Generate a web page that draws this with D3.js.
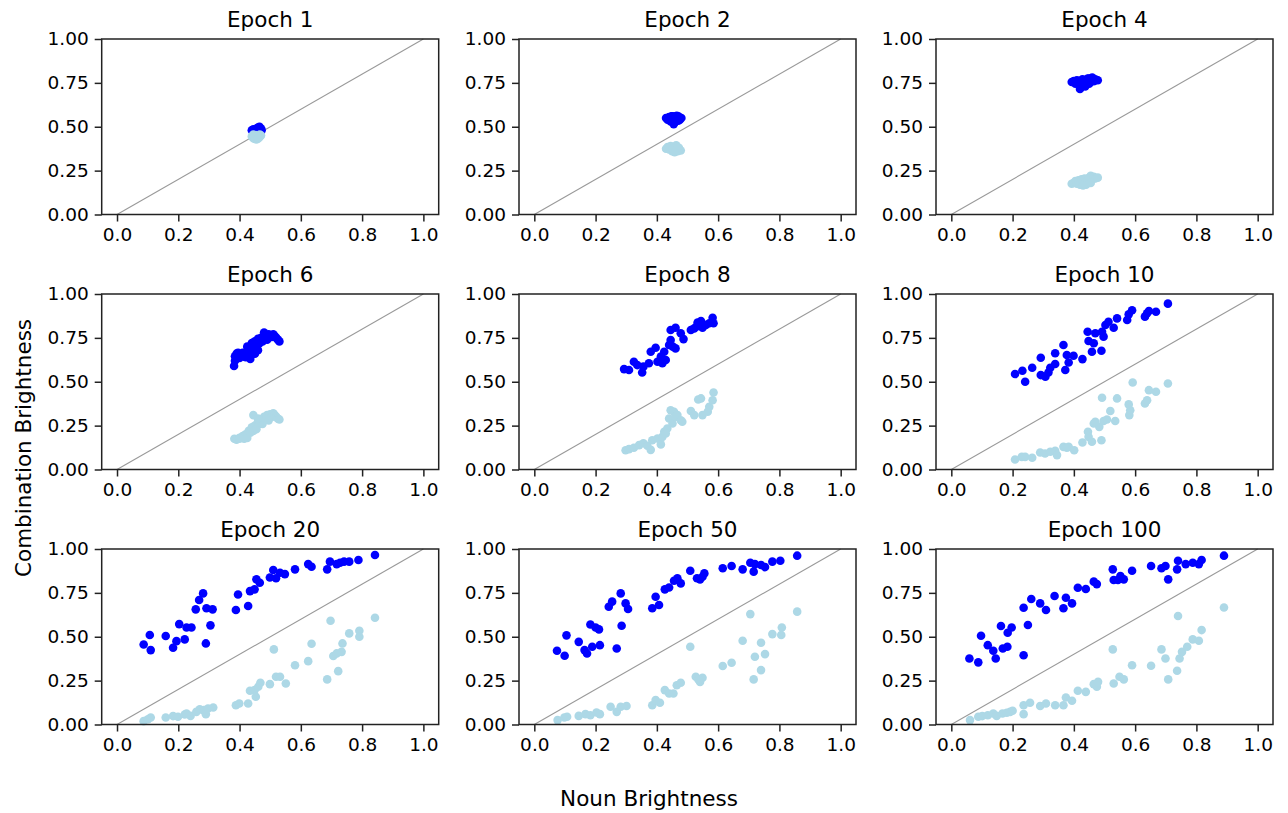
<!DOCTYPE html>
<html>
<head>
<meta charset="utf-8">
<script src="https://cdn.jsdelivr.net/npm/d3@7"></script>
<style>
	body { margin: 0; background: #fff; }
	text { font-family: "DejaVu Sans", sans-serif; fill: #000; }
</style>
</head>
<body>
<div id="chart"></div>
<script>

// Noun brightness (x) vs combination brightness (y), two groups per epoch

const epochs = [1, 2, 4, 6, 8, 10, 20, 50, 100];

const xTicks = [0, 0.2, 0.4, 0.6, 0.8, 1.0];
const yTicks = [0, 0.25, 0.5, 0.75, 1.0];

const ep1Dark = [[0.44,0.48],[0.445,0.485],[0.45,0.48],[0.455,0.49],[0.46,0.495],[0.465,0.5],[0.47,0.49],[0.468,0.475],[0.46,0.48],[0.45,0.475],[0.443,0.478],[0.455,0.485],[0.462,0.488],[0.472,0.48]];
const ep1Light = [[0.44,0.445],[0.445,0.435],[0.45,0.43],[0.455,0.428],[0.46,0.432],[0.465,0.44],[0.47,0.45],[0.466,0.455],[0.452,0.452],[0.445,0.455],[0.458,0.445],[0.462,0.437]];

const ep2Dark = [[0.43,0.55],[0.435,0.54],[0.44,0.555],[0.445,0.53],[0.448,0.56],[0.452,0.545],[0.455,0.515],[0.46,0.56],[0.462,0.535],[0.467,0.55],[0.47,0.56],[0.475,0.54],[0.48,0.55],[0.44,0.54],[0.458,0.525],[0.45,0.56],[0.47,0.535],[0.465,0.562]];
const ep2Light = [[0.43,0.375],[0.435,0.385],[0.44,0.37],[0.445,0.39],[0.45,0.36],[0.455,0.385],[0.46,0.37],[0.463,0.395],[0.468,0.36],[0.472,0.38],[0.478,0.365],[0.44,0.385],[0.452,0.375],[0.466,0.38],[0.458,0.355]];

const ep4Dark = [[0.393,0.755],[0.40,0.76],[0.405,0.745],[0.41,0.765],[0.415,0.75],[0.42,0.715],[0.423,0.74],[0.428,0.77],[0.432,0.755],[0.437,0.73],[0.44,0.76],[0.445,0.775],[0.45,0.745],[0.455,0.765],[0.46,0.78],[0.465,0.76],[0.47,0.77],[0.478,0.765],[0.425,0.76],[0.45,0.775]];
const ep4Light = [[0.393,0.175],[0.40,0.18],[0.405,0.19],[0.41,0.175],[0.415,0.195],[0.42,0.17],[0.425,0.2],[0.43,0.185],[0.435,0.205],[0.44,0.17],[0.445,0.195],[0.45,0.21],[0.455,0.22],[0.46,0.2],[0.465,0.215],[0.47,0.205],[0.478,0.21],[0.43,0.165],[0.455,0.18]];

const ep6Dark = [[0.382,0.59],[0.385,0.62],[0.385,0.645],[0.39,0.66],[0.395,0.665],[0.40,0.635],[0.41,0.665],[0.415,0.65],[0.42,0.64],[0.425,0.70],[0.43,0.67],[0.435,0.63],[0.44,0.72],[0.44,0.68],[0.445,0.66],[0.45,0.73],[0.455,0.70],[0.46,0.68],[0.46,0.745],[0.465,0.72],[0.47,0.75],[0.475,0.73],[0.48,0.78],[0.485,0.76],[0.49,0.74],[0.495,0.77],[0.50,0.765],[0.505,0.755],[0.51,0.77],[0.515,0.76],[0.52,0.75],[0.525,0.74],[0.53,0.73],[0.45,0.66],[0.43,0.69]];
const ep6Light = [[0.383,0.175],[0.39,0.17],[0.40,0.18],[0.41,0.19],[0.415,0.175],[0.42,0.20],[0.425,0.18],[0.43,0.22],[0.435,0.21],[0.44,0.24],[0.445,0.31],[0.445,0.22],[0.45,0.25],[0.455,0.23],[0.46,0.27],[0.465,0.26],[0.47,0.28],[0.475,0.26],[0.48,0.30],[0.485,0.29],[0.49,0.31],[0.495,0.28],[0.50,0.315],[0.505,0.30],[0.51,0.32],[0.515,0.31],[0.52,0.30],[0.525,0.29],[0.53,0.285],[0.46,0.29],[0.40,0.175]];

const ep8Dark = [[0.293,0.572],[0.309,0.567],[0.325,0.614],[0.336,0.595],[0.352,0.553],[0.356,0.586],[0.374,0.605],[0.380,0.671],[0.396,0.694],[0.402,0.614],[0.413,0.643],[0.418,0.605],[0.429,0.624],[0.424,0.671],[0.440,0.709],[0.445,0.738],[0.445,0.795],[0.461,0.808],[0.461,0.690],[0.452,0.700],[0.478,0.776],[0.487,0.743],[0.511,0.795],[0.522,0.804],[0.533,0.838],[0.544,0.846],[0.549,0.808],[0.560,0.823],[0.571,0.833],[0.582,0.865],[0.585,0.833],[0.530,0.815]];
const ep8Light = [[0.298,0.110],[0.309,0.116],[0.325,0.124],[0.342,0.139],[0.356,0.150],[0.369,0.135],[0.380,0.112],[0.385,0.167],[0.402,0.177],[0.413,0.143],[0.418,0.186],[0.424,0.215],[0.434,0.234],[0.440,0.291],[0.445,0.338],[0.456,0.329],[0.451,0.262],[0.461,0.300],[0.467,0.310],[0.478,0.281],[0.483,0.272],[0.511,0.333],[0.522,0.310],[0.535,0.399],[0.544,0.405],[0.549,0.310],[0.566,0.329],[0.571,0.357],[0.582,0.395],[0.585,0.439],[0.429,0.205]];

const ep10Dark = [[0.208,0.544],[0.232,0.563],[0.241,0.500],[0.264,0.580],[0.292,0.637],[0.292,0.538],[0.307,0.529],[0.317,0.553],[0.323,0.580],[0.339,0.601],[0.339,0.662],[0.366,0.709],[0.372,0.567],[0.377,0.652],[0.383,0.610],[0.399,0.648],[0.428,0.629],[0.445,0.785],[0.448,0.732],[0.459,0.671],[0.465,0.719],[0.470,0.776],[0.490,0.677],[0.492,0.785],[0.497,0.757],[0.503,0.823],[0.513,0.842],[0.530,0.808],[0.541,0.861],[0.574,0.852],[0.579,0.884],[0.590,0.907],[0.632,0.871],[0.639,0.890],[0.645,0.903],[0.668,0.899],[0.707,0.945]];
const ep10Light = [[0.208,0.057],[0.230,0.072],[0.241,0.072],[0.264,0.067],[0.290,0.097],[0.306,0.091],[0.323,0.101],[0.339,0.106],[0.345,0.082],[0.366,0.129],[0.377,0.124],[0.383,0.129],[0.401,0.110],[0.428,0.154],[0.446,0.215],[0.448,0.186],[0.459,0.158],[0.465,0.262],[0.470,0.272],[0.483,0.243],[0.490,0.167],[0.492,0.409],[0.497,0.276],[0.508,0.285],[0.519,0.333],[0.535,0.276],[0.541,0.405],[0.579,0.371],[0.581,0.310],[0.584,0.338],[0.592,0.496],[0.632,0.376],[0.639,0.395],[0.645,0.452],[0.668,0.443],[0.707,0.490]];

const ep20Dark = [[0.087,0.456],[0.107,0.510],[0.110,0.424],[0.159,0.504],[0.183,0.437],[0.194,0.475],[0.203,0.572],[0.221,0.485],[0.227,0.553],[0.243,0.553],[0.257,0.656],[0.268,0.709],[0.281,0.747],[0.290,0.462],[0.292,0.662],[0.305,0.565],[0.312,0.656],[0.388,0.652],[0.395,0.741],[0.428,0.675],[0.434,0.760],[0.449,0.770],[0.455,0.827],[0.466,0.808],[0.499,0.838],[0.510,0.880],[0.519,0.833],[0.532,0.865],[0.548,0.857],[0.581,0.884],[0.624,0.914],[0.635,0.899],[0.686,0.884],[0.695,0.928],[0.717,0.914],[0.728,0.922],[0.741,0.928],[0.758,0.928],[0.788,0.937],[0.842,0.966]];
const ep20Light = [[0.087,0.019],[0.101,0.030],[0.110,0.040],[0.159,0.040],[0.183,0.048],[0.199,0.044],[0.221,0.057],[0.240,0.049],[0.227,0.063],[0.259,0.072],[0.270,0.086],[0.283,0.082],[0.290,0.059],[0.297,0.091],[0.314,0.097],[0.388,0.110],[0.399,0.120],[0.428,0.120],[0.434,0.192],[0.449,0.196],[0.453,0.158],[0.461,0.215],[0.468,0.238],[0.499,0.230],[0.512,0.428],[0.519,0.272],[0.532,0.272],[0.551,0.234],[0.581,0.338],[0.624,0.361],[0.635,0.460],[0.686,0.257],[0.697,0.591],[0.706,0.390],[0.717,0.405],[0.722,0.304],[0.733,0.414],[0.736,0.462],[0.758,0.519],[0.791,0.534],[0.791,0.500],[0.842,0.608]];

const ep50Dark = [[0.074,0.420],[0.099,0.392],[0.105,0.508],[0.145,0.471],[0.164,0.424],[0.172,0.405],[0.183,0.570],[0.189,0.443],[0.200,0.553],[0.211,0.542],[0.214,0.452],[0.243,0.671],[0.254,0.700],[0.269,0.433],[0.282,0.747],[0.285,0.563],[0.298,0.690],[0.306,0.658],[0.385,0.662],[0.396,0.728],[0.407,0.681],[0.426,0.770],[0.440,0.781],[0.456,0.819],[0.467,0.833],[0.478,0.804],[0.509,0.876],[0.531,0.833],[0.541,0.827],[0.549,0.842],[0.555,0.861],[0.615,0.890],[0.644,0.903],[0.680,0.884],[0.705,0.922],[0.716,0.871],[0.720,0.914],[0.740,0.909],[0.753,0.897],[0.777,0.928],[0.803,0.933],[0.858,0.962]];
const ep50Light = [[0.076,0.025],[0.098,0.040],[0.107,0.044],[0.145,0.049],[0.167,0.059],[0.183,0.053],[0.203,0.068],[0.214,0.059],[0.249,0.101],[0.269,0.072],[0.282,0.101],[0.301,0.105],[0.385,0.110],[0.396,0.139],[0.410,0.124],[0.426,0.196],[0.440,0.177],[0.454,0.177],[0.465,0.224],[0.478,0.238],[0.509,0.443],[0.527,0.272],[0.541,0.243],[0.549,0.266],[0.536,0.255],[0.615,0.333],[0.644,0.352],[0.680,0.477],[0.705,0.629],[0.716,0.257],[0.720,0.386],[0.740,0.466],[0.740,0.310],[0.753,0.401],[0.777,0.515],[0.806,0.510],[0.808,0.553],[0.858,0.643]];

const ep100Dark = [[0.059,0.376],[0.088,0.354],[0.097,0.506],[0.119,0.452],[0.137,0.420],[0.145,0.376],[0.162,0.561],[0.168,0.433],[0.183,0.443],[0.184,0.523],[0.197,0.553],[0.236,0.665],[0.236,0.395],[0.250,0.567],[0.261,0.715],[0.290,0.690],[0.309,0.652],[0.337,0.732],[0.366,0.662],[0.374,0.722],[0.394,0.690],[0.413,0.779],[0.439,0.772],[0.465,0.814],[0.475,0.800],[0.527,0.884],[0.530,0.823],[0.544,0.823],[0.552,0.846],[0.563,0.827],[0.590,0.876],[0.652,0.903],[0.686,0.890],[0.699,0.903],[0.708,0.827],[0.737,0.884],[0.740,0.933],[0.765,0.914],[0.788,0.922],[0.808,0.914],[0.817,0.937],[0.890,0.962]];
const ep100Light = [[0.061,0.025],[0.088,0.044],[0.101,0.048],[0.119,0.053],[0.137,0.063],[0.148,0.049],[0.167,0.063],[0.181,0.067],[0.192,0.072],[0.200,0.078],[0.236,0.110],[0.236,0.059],[0.257,0.124],[0.290,0.105],[0.309,0.120],[0.339,0.110],[0.366,0.110],[0.374,0.154],[0.394,0.135],[0.413,0.192],[0.439,0.186],[0.465,0.230],[0.475,0.215],[0.479,0.243],[0.527,0.428],[0.530,0.234],[0.549,0.272],[0.563,0.257],[0.590,0.338],[0.652,0.335],[0.686,0.428],[0.699,0.376],[0.708,0.257],[0.737,0.306],[0.740,0.618],[0.745,0.376],[0.753,0.414],[0.770,0.443],[0.788,0.485],[0.808,0.477],[0.817,0.538],[0.890,0.667]];

const darkSets = [ep1Dark, ep2Dark, ep4Dark, ep6Dark, ep8Dark, ep10Dark, ep20Dark, ep50Dark, ep100Dark];
const lightSets = [ep1Light, ep2Light, ep4Light, ep6Light, ep8Light, ep10Light, ep20Light, ep50Light, ep100Light];

class ScatterGrid {

	constructor(options) {
		this.element = options.element;
		this.draw();
	}

	draw() {

		this.width = 1288;
		this.height = 813;

		this.colLeft = [101.7, 519, 936];
		this.rowTop = [39, 294, 549];
		this.panelW = 337;
		this.panelH = 175.5;

		this.createSVG();
		this.createScales();
		this.createPanels();
		this.createLabels();

	}

	createSVG() {
		this.svg = d3.select(this.element)
			.append('svg')
				.attr('width', this.width)
				.attr('height', this.height);
	}

	createScales() {

		this.xScale = d3.scaleLinear()
			.domain([-0.05, 1.05])
			.range([0, this.panelW]);

		this.yScale = d3.scaleLinear()
			.domain([0, 1])
			.range([this.panelH, 0]);

	}

	createPanels() {

		var that = this;

		epochs.forEach(function(ep, i) {

			var g = that.svg.append('g')
				.attr('transform', `translate(${that.colLeft[i % 3]}, ${that.rowTop[Math.floor(i / 3)]})`);

			// diagonal y = x
			g.append('line')
				.attr('x1', that.xScale(0))
				.attr('y1', that.yScale(0))
				.attr('x2', that.xScale(1))
				.attr('y2', that.yScale(1))
				.attr('stroke', '#999')
				.attr('stroke-width', 1.1);

			g.append('g')
				.selectAll('circle')
				.data(darkSets[i])
				.join('circle')
					.attr('cx', d => that.xScale(d[0]))
					.attr('cy', d => that.yScale(d[1]))
					.attr('r', 4.3)
					.attr('fill', '#0000ff');

			g.append('g')
				.selectAll('circle')
				.data(lightSets[i])
				.join('circle')
					.attr('cx', d => that.xScale(d[0]))
					.attr('cy', d => that.yScale(d[1]))
					.attr('r', 4.3)
					.attr('fill', '#add8e6');

			var xAxis = d3.axisBottom(that.xScale)
				.tickValues(xTicks)
				.tickFormat(d3.format('.1f'))
				.tickSizeInner(7)
				.tickSizeOuter(0)
				.tickPadding(6);

			var gx = g.append('g')
				.attr('transform', `translate(0, ${that.panelH})`)
				.call(xAxis);

			var yAxis = d3.axisLeft(that.yScale)
				.tickValues(yTicks)
				.tickFormat(d3.format('.2f'))
				.tickSizeInner(7)
				.tickSizeOuter(0)
				.tickPadding(6);

			var gy = g.append('g')
				.call(yAxis);

			[gx, gy].forEach(function(ax) {
				ax.select('.domain').remove();
				ax.selectAll('line').attr('stroke', '#222').attr('stroke-width', 1.5);
				ax.selectAll('text')
					.attr('font-family', '"DejaVu Sans", sans-serif')
					.attr('font-size', 18.5)
					.attr('fill', '#222');
			});

			g.append('rect')
				.attr('width', that.panelW)
				.attr('height', that.panelH)
				.attr('fill', 'none')
				.attr('stroke', '#222')
				.attr('stroke-width', 1.5);

			g.append('text')
				.attr('x', that.panelW / 2)
				.attr('y', -12)
				.attr('text-anchor', 'middle')
				.attr('font-size', 21.5)
				.attr('fill', '#222')
				.text(`Epoch ${ep}`);

		});

	}

	createLabels() {

		this.svg.append('text')
			.attr('x', 649)
			.attr('y', 806)
			.attr('text-anchor', 'middle')
			.attr('font-size', 21.5)
			.attr('fill', '#222')
			.text('Noun Brightness');

		this.svg.append('text')
			.attr('transform', 'translate(31, 448) rotate(-90)')
			.attr('text-anchor', 'middle')
			.attr('font-size', 21.5)
			.attr('fill', '#222')
			.text('Combination Brightness');

	}

}

new ScatterGrid({ element: '#chart' });

</script>
</body>
</html>
